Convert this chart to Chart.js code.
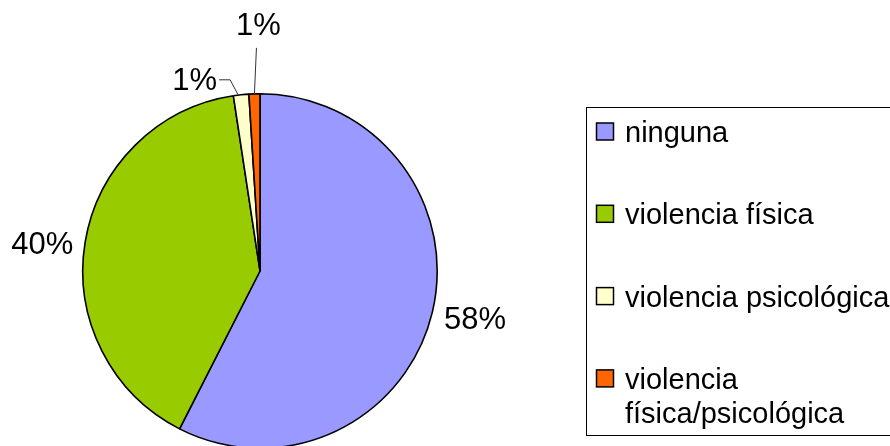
<!DOCTYPE html>
<html>
<head>
<meta charset="utf-8">
<script src="https://cdn.jsdelivr.net/npm/chart.js@4/dist/chart.umd.min.js"></script>
<style>
html,body{margin:0;padding:0;background:#fff;overflow:hidden;}
#wrap{width:890px;height:460px;}
</style>
</head>
<body>
<div id="wrap"><canvas id="c" width="890" height="460"></canvas></div>
<script>
const categories = ['ninguna', 'violencia física', 'violencia psicológica', 'violencia física/psicológica'];
const values = [57.5, 40.1, 1.4, 1.0];
const colors = ['#9999FF', '#99CC00', '#FFFFCC', '#FF6600'];

const FONT = '"Liberation Sans", Arial, sans-serif';

const labelPlugin = {
  id: 'pieLabels',
  afterDatasetsDraw(chart) {
    const ctx = chart.ctx;
    const meta = chart.getDatasetMeta(0);
    const data = chart.data.datasets[0].data;
    ctx.save();
    ctx.font = '31px ' + FONT;
    ctx.fillStyle = '#000';
    meta.data.forEach((arc, i) => {
      const p = arc.getProps(['x','y','startAngle','endAngle','outerRadius'], true);
      const m = (p.startAngle + p.endAngle) / 2;
      const R = p.outerRadius;
      const txt = Math.round(data[i]) + '%';
      const px = p.x + Math.cos(m) * R, py = p.y + Math.sin(m) * R;
      if (data[i] >= 5) {
        const ax = p.x + Math.cos(m) * (R + 12);
        const ay = p.y + Math.sin(m) * (R + 12) + 5;
        ctx.textAlign = Math.cos(m) < 0 ? 'right' : 'left';
        ctx.textBaseline = 'middle';
        ctx.fillText(txt, ax, ay);
      } else {
        ctx.strokeStyle = '#333';
        ctx.lineWidth = 1;
        ctx.beginPath();
        if (i === 3) {
          ctx.moveTo(px, py);
          ctx.lineTo(px + 2, py - 46);
          ctx.stroke();
          ctx.textAlign = 'center';
          ctx.textBaseline = 'middle';
          ctx.fillText(txt, px + 4, py - 67);
        } else {
          ctx.moveTo(px - 3, py);
          ctx.lineTo(px - 11, py - 15);
          ctx.lineTo(px - 22, py - 15);
          ctx.stroke();
          ctx.textAlign = 'right';
          ctx.textBaseline = 'middle';
          ctx.fillText(txt, px - 24, py - 13);
        }
      }
    });
    ctx.restore();
  }
};

const legendPlugin = {
  id: 'boxLegend',
  afterDraw(chart) {
    const ctx = chart.ctx;
    const labels = chart.data.labels;
    const bg = chart.data.datasets[0].backgroundColor;
    ctx.save();
    ctx.strokeStyle = '#000';
    ctx.lineWidth = 1;
    ctx.strokeRect(586.5, 107.5, 400, 328);
    ctx.font = '29px ' + FONT;
    ctx.textAlign = 'left';
    ctx.textBaseline = 'alphabetic';
    ctx.fillStyle = '#000';
    const maxW = 268;
    labels.forEach((lab, i) => {
      const top = 123 + i * 82.3;
      ctx.fillStyle = bg[i];
      ctx.fillRect(596.5, top, 17, 17);
      ctx.strokeStyle = '#000';
      ctx.lineWidth = 1.5;
      ctx.strokeRect(596.5, top, 17, 17);
      ctx.fillStyle = '#000';
      const words = lab.split(' ');
      const lines = [];
      let cur = '';
      words.forEach(w => {
        const t = cur ? cur + ' ' + w : w;
        if (ctx.measureText(t).width > maxW && cur) { lines.push(cur); cur = w; }
        else cur = t;
      });
      lines.push(cur);
      lines.forEach((ln, k) => ctx.fillText(ln, 625, top + 19 + k * 34));
    });
    ctx.restore();
  }
};

new Chart(document.getElementById('c'), {
  type: 'pie',
  data: {
    labels: categories,
    datasets: [{
      data: values,
      backgroundColor: colors,
      borderColor: '#000',
      borderWidth: 1.6
    }]
  },
  options: {
    responsive: false,
    animation: false,
    layout: { padding: { left: 82, right: 452, top: 93, bottom: 11 } },
    plugins: {
      legend: { display: false },
      tooltip: { enabled: false }
    }
  },
  plugins: [labelPlugin, legendPlugin]
});
</script>
</body>
</html>
